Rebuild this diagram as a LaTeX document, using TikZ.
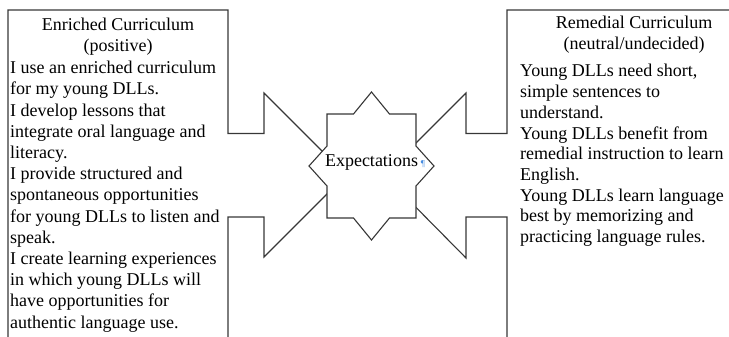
\documentclass[tikz,border=0pt]{standalone}
\usepackage{fontspec}
\setmainfont{Liberation Serif}
\usetikzlibrary{positioning}

\definecolor{edgegray}{RGB}{55,55,55}
\definecolor{markblue}{RGB}{70,140,225}

\tikzset{
  callout/.style={draw=edgegray, line width=1.1pt, line join=miter},
  burst/.style={draw=edgegray, line width=1.1pt, fill=white},
  title/.style={font=\fontsize{18}{21.4}\selectfont, align=center, inner sep=0pt},
  leftbody/.style={font=\fontsize{18}{21.2}\selectfont, align=left, inner sep=0pt},
  rightbody/.style={font=\fontsize{18}{20.7}\selectfont, align=left, inner sep=0pt}
}

\begin{document}
\begin{tikzpicture}[x=1pt, y=-1pt]
        \useasboundingbox (0,0) rectangle (729,337);

        % Left callout (points to the right)
        \draw[callout] (8,345) -- (8,10) -- (228,10) -- (228,133.5) -- (264,133.5)
            -- (264,93) -- (346,175) -- (264,257) -- (264,217) -- (228,217) -- (228,345);

        % Right callout (points to the left)
        \draw[callout] (507,345) -- (507,217) -- (466,217) -- (466,258)
            -- (384,175) -- (466,93) -- (466,133.5) -- (507,133.5) -- (507,10) -- (740,10);

        % Star in the middle
        \coordinate (hub) at (371.5,166);
        \begin{scope}[shift={(hub)}]
            \draw[burst] (0,-74) -- (18,-52) -- (44.5,-52) -- (44.5,-20) -- (62.5,0)
                -- (44.5,20) -- (44.5,52) -- (18,52) -- (0,74) -- (-18,52)
                -- (-44.5,52) -- (-44.5,20) -- (-62.5,0) -- (-44.5,-20)
                -- (-44.5,-52) -- (-18,-52) -- cycle;
        \end{scope}
        \node[title, anchor=base] (expect) at (371.5,166)
            {Expectations\rlap{\,\textcolor{markblue}{\fontsize{9}{9}\selectfont\P}}};

        % Texts, left (base = last line)
        \node[title, anchor=base] (enrtitle) at (118,52)
            {Enriched Curriculum\\(positive)};
        \node[leftbody, anchor=base west] (enrbody) at (10,328)
            {I use an enriched curriculum\\
             for my young DLLs.\\
             I develop lessons that\\
             integrate oral language and\\
             literacy.\\
             I provide structured and\\
             spontaneous opportunities\\
             for young DLLs to listen and\\
             speak.\\
             I create learning experiences\\
             in which young DLLs will\\
             have opportunities for\\
             authentic language use.};

        % Texts, right (base = last line)
        \node[title, anchor=base] (remtitle) at (634,50)
            {Remedial Curriculum\\(neutral/undecided)};
        \node[rightbody, anchor=base west] (rembody) at (520,242.5)
            {Young DLLs need short,\\
             simple sentences to\\
             understand.\\
             Young DLLs benefit from\\
             remedial instruction to learn\\
             English.\\
             Young DLLs learn language\\
             best by memorizing and\\
             practicing language rules.};
    \end{tikzpicture}
\end{document}
